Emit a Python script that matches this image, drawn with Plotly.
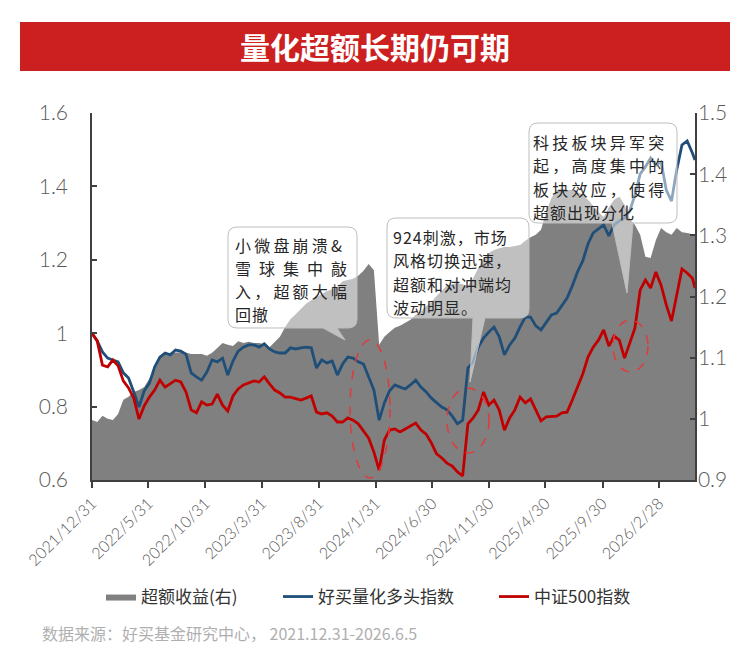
import pandas as pd
import plotly.graph_objects as go

# ---------------- data ----------------
dates = [d.strftime("%Y-%m-%d") for d in pd.date_range("2021-12-31", periods=116, freq="14D")] + ["2026-06-05"]

excess = [0.998,0.995,1.005,1.000,0.998,1.008,1.031,1.036,1.044,1.047,
          1.052,1.067,1.080,1.101,1.106,1.108,1.109,1.109,1.108,1.106,
          1.106,1.106,1.103,1.108,1.116,1.124,1.121,1.119,1.127,1.124,
          1.126,1.124,1.124,1.122,1.117,1.126,1.134,1.150,1.163,1.171,
          1.180,1.188,1.194,1.199,1.204,1.209,1.212,1.216,1.225,1.227,
          1.229,1.234,1.242,1.253,1.243,1.121,1.134,1.142,1.149,1.152,
          1.157,1.162,1.170,1.176,1.184,1.191,1.201,1.209,1.219,1.220,
          1.222,1.220,1.217,1.230,1.247,1.263,1.271,1.276,1.279,1.281,
          1.281,1.283,1.284,1.291,1.297,1.301,1.309,1.338,1.361,1.374,
          1.377,1.374,1.374,1.371,1.366,1.358,1.348,1.338,1.330,1.346,
          1.358,1.363,1.350,1.328,1.317,1.301,1.265,1.263,1.292,1.312,
          1.305,1.301,1.312,1.305,1.304,1.302,1.301]

howbuy_quant = [1.000,0.979,0.949,0.932,0.927,0.922,0.892,0.878,0.840,0.799,
                0.843,0.864,0.908,0.935,0.946,0.941,0.954,0.951,0.943,0.892,
                0.881,0.872,0.894,0.927,0.922,0.932,0.886,0.924,0.951,0.962,
                0.968,0.968,0.962,0.971,0.957,0.949,0.946,0.946,0.960,0.957,
                0.960,0.962,0.960,0.905,0.927,0.919,0.924,0.886,0.916,0.935,
                0.932,0.922,0.916,0.878,0.845,0.763,0.810,0.843,0.859,0.853,
                0.848,0.859,0.872,0.853,0.840,0.823,0.810,0.799,0.791,0.774,
                0.753,0.763,0.905,0.922,0.962,0.987,1.003,1.017,0.990,0.941,
                0.968,0.987,1.017,1.044,1.044,1.020,1.009,1.031,1.050,1.055,
                1.074,1.096,1.129,1.167,1.197,1.243,1.273,1.284,1.295,1.265,
                1.295,1.306,1.314,1.333,1.377,1.434,1.453,1.477,1.458,1.467,
                1.390,1.360,1.445,1.513,1.524,1.491,1.472]

csi500 = [1.000,0.979,0.913,0.908,0.927,0.911,0.870,0.851,0.823,0.766,
          0.802,0.826,0.845,0.872,0.853,0.862,0.872,0.867,0.840,0.791,
          0.783,0.813,0.804,0.807,0.834,0.804,0.788,0.829,0.848,0.859,
          0.864,0.870,0.867,0.881,0.862,0.845,0.837,0.826,0.826,0.821,
          0.818,0.823,0.829,0.785,0.780,0.783,0.774,0.758,0.758,0.769,
          0.763,0.753,0.734,0.714,0.676,0.627,0.709,0.736,0.739,0.731,
          0.739,0.747,0.755,0.736,0.725,0.701,0.671,0.660,0.646,0.638,
          0.622,0.611,0.753,0.769,0.791,0.840,0.804,0.818,0.791,0.736,
          0.769,0.791,0.826,0.810,0.821,0.791,0.761,0.772,0.774,0.774,
          0.783,0.785,0.818,0.851,0.889,0.935,0.962,0.981,1.009,0.965,
          0.992,0.981,0.932,0.973,1.014,1.118,1.145,1.123,1.167,1.131,
          1.077,1.033,1.107,1.175,1.164,1.150,1.123]

tick_dates = ["2021-12-31","2022-05-31","2022-10-31","2023-03-31","2023-08-31","2024-01-31",
              "2024-06-30","2024-11-30","2025-04-30","2025-09-30","2026-02-28"]
tick_labels = [f"{int(d[:4])}/{int(d[5:7])}/{int(d[8:])}" for d in tick_dates]

series_names = ["超额收益(右)", "好买量化多头指数", "中证500指数"]
title_text = "量化超额长期仍可期"
source_text = "数据来源：好买基金研究中心， 2021.12.31-2026.6.5"

box1_lines = ["小微盘崩溃&", "雪球集中敲", "入，超额大幅", "回撤"]
box2_lines = ["924刺激，市场", "风格切换迅速，", "超额和对冲端均", "波动明显。"]
box3_lines = ["科技板块异军突", "起，高度集中的", "板块效应，使得", "超额出现分化"]

# ---------------- layout geometry ----------------
W, H = 750, 655
PL, PR, PT, PB = 92, 695, 113, 480   # plot area in pixels

def px(x):
    return (x - PL) / (PR - PL)

def py(y):
    return (PB - y) / (PB - PT)

def callout(x0, y0, x1, y1, bx0, bx1, tx, ty, r=9):
    def P(x, y):
        return f"{px(x):.5f},{py(y):.5f}"
    d = (f"M {P(x0+r, y0)} L {P(x1-r, y0)} Q {P(x1, y0)} {P(x1, y0+r)} "
         f"L {P(x1, y1-r)} Q {P(x1, y1)} {P(x1-r, y1)} "
         f"L {P(bx1, y1)} L {P(tx, ty)} L {P(bx0, y1)} "
         f"L {P(x0+r, y1)} Q {P(x0, y1)} {P(x0, y1-r)} "
         f"L {P(x0, y0+r)} Q {P(x0, y0)} {P(x0+r, y0)} Z")
    return dict(type="path", xref="paper", yref="paper", path=d,
                fillcolor="rgba(255,255,255,0.5)",
                line=dict(color="rgba(190,190,190,1)", width=1), layer="above")

def ellipse(x0, y0, x1, y1):
    return dict(type="circle", xref="paper", yref="paper",
                x0=px(x0), x1=px(x1), y0=py(y1), y1=py(y0),
                line=dict(color="#E03A3A", width=1.5, dash="dash"),
                fillcolor="rgba(0,0,0,0)", layer="above")

CJK = "Noto Sans CJK SC"
NUM = "Lato, Noto Sans CJK SC"

fig = go.Figure()
fig.add_trace(go.Scatter(x=dates, y=excess, name=series_names[0], yaxis="y2",
                         mode="lines", fill="tozeroy", fillcolor="#808080",
                         line=dict(color="#808080", width=0), legendwidth=132))
fig.add_trace(go.Scatter(x=dates, y=howbuy_quant, name=series_names[1], yaxis="y",
                         mode="lines", line=dict(color="#1F4E79", width=2.8), legendwidth=171))
fig.add_trace(go.Scatter(x=dates, y=csi500, name=series_names[2], yaxis="y",
                         mode="lines", line=dict(color="#C00000", width=2.8)))

axis_font = dict(family=NUM, size=21, color="#595959", weight=300)

shapes = [
    dict(type="rect", xref="paper", yref="paper", x0=px(20), x1=px(730), y0=py(71), y1=py(22),
         fillcolor="#CC2020", line=dict(width=0), layer="above"),
    callout(228, 227, 357, 328, 323, 337, 345, 340),
    callout(387, 218, 529, 318, 473, 485, 470, 382),
    callout(529, 123, 677, 223, 612, 633, 627, 293),
    ellipse(350, 340, 390, 478),
    ellipse(447, 388, 489, 453),
    ellipse(613, 320, 648, 372),
]

THIN = "\u2009"
EN = "\u2002"
HAIR = "\u200a"

def line_ann(text, x, y, size):
    return dict(text=text, xref="paper", yref="paper", x=px(x), y=py(y), xanchor="left", yanchor="middle",
                align="left", showarrow=False, borderpad=0,
                font=dict(family=CJK, size=size, color="#262626"))

annotations = [
    dict(text=title_text, xref="paper", yref="paper", x=px(375), y=py(46),
         xanchor="center", yanchor="middle", showarrow=False,
         font=dict(family=CJK, size=30, color="white", weight="bold")),
    dict(text=source_text, xref="paper", yref="paper", x=px(40), y=py(633), xanchor="left", yanchor="middle",
         showarrow=False, font=dict(family=CJK, size=16, color="#AFAFAF")),
]
b1 = [THIN.join(box1_lines[0]), EN.join(box1_lines[1]), THIN.join(box1_lines[2]), HAIR.join(box1_lines[3])]
for k, t in enumerate(b1):
    annotations.append(line_ann(t, 234, 244.5 + 23.3 * k, 16))
for k, t in enumerate(box2_lines):
    annotations.append(line_ann(HAIR.join(t), 392, 237 + 23.3 * k, 16))
b3 = [THIN.join(box3_lines[0]), THIN.join(box3_lines[1]), THIN.join(box3_lines[2]), HAIR.join(box3_lines[3])]
for k, t in enumerate(b3):
    annotations.append(line_ann(t, 532, 142 + 23.3 * k, 16))

fig.update_layout(
    width=W, height=H,
    margin=dict(l=PL, r=W - PR, t=PT, b=H - PB),
    paper_bgcolor="white", plot_bgcolor="white",
    showlegend=True,
    legend=dict(orientation="h", x=px(101), xanchor="left", y=py(597), yanchor="middle",
                font=dict(family=CJK, size=17, color="#333333"), itemwidth=30,
                bgcolor="rgba(0,0,0,0)", borderwidth=0),
    xaxis=dict(type="date", range=["2021-12-31", "2026-06-05"], tickvals=tick_dates, ticktext=tick_labels,
               tickangle=-45, ticks="outside", ticklen=6, tickcolor="#404040", tickwidth=1.5,
               showline=True, linecolor="#404040", linewidth=1.5, showgrid=False, zeroline=False,
               tickfont=dict(family=NUM, size=16, color="#595959", weight=300)),
    yaxis2=dict(range=[0.9, 1.5], dtick=0.1, side="right", anchor="x",
                ticks="inside", ticklen=5, tickcolor="#404040", tickwidth=1.5,
                showline=True, linecolor="#404040", linewidth=1.5, showgrid=False, zeroline=False,
                tickfont=axis_font, ticklabelstandoff=-3),
    yaxis=dict(range=[0.6, 1.6], dtick=0.2, side="left", overlaying="y2", anchor="x",
               ticks="inside", ticklen=5, tickcolor="#404040", tickwidth=1.5,
               showline=True, linecolor="#404040", linewidth=1.5, showgrid=False, zeroline=False,
               tickfont=axis_font, ticklabelstandoff=18),
    shapes=shapes, annotations=annotations,
)

fig.write_html("out.html")
